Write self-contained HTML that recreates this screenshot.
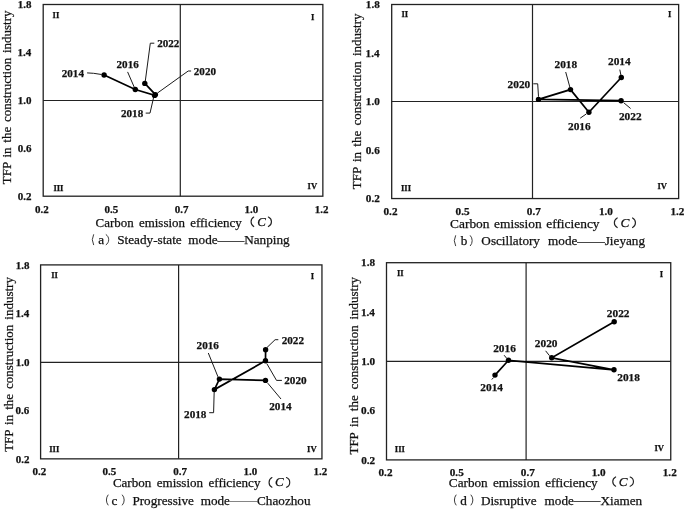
<!DOCTYPE html>
<html><head><meta charset="utf-8"><style>
html,body{margin:0;padding:0;background:#fff;}
body{width:685px;height:509px;overflow:hidden;}
svg{display:block;will-change:transform;}
text{font-family:"Liberation Serif",serif;}
text{stroke:#111;stroke-width:0.25px;}
</style></head><body>
<svg width="685" height="509" viewBox="0 0 685 509">
<g id="pa">
<rect x="43.2" y="4.5" width="279.65" height="191.70" fill="none" stroke="#222" stroke-width="1.3"/>
<line x1="180.3" y1="4.5" x2="180.3" y2="196.2" stroke="#222" stroke-width="1.2"/>
<line x1="43.2" y1="100.5" x2="322.85" y2="100.5" stroke="#222" stroke-width="1.2"/>
<text x="17.74" y="8.20" font-size="11.0" font-weight="bold" fill="#111">1.8</text>
<text x="17.57" y="56.12" font-size="11.0" font-weight="bold" fill="#111">1.4</text>
<text x="17.79" y="104.05" font-size="11.0" font-weight="bold" fill="#111">1.0</text>
<text x="17.68" y="151.97" font-size="11.0" font-weight="bold" fill="#111">0.6</text>
<text x="17.79" y="199.90" font-size="11.0" font-weight="bold" fill="#111">0.2</text>
<text x="35.02" y="212.60" font-size="11.0" font-weight="bold" fill="#111">0.2</text>
<text x="104.60" y="212.60" font-size="11.0" font-weight="bold" fill="#111">0.5</text>
<text x="174.84" y="212.60" font-size="11.0" font-weight="bold" fill="#111">0.7</text>
<text x="244.50" y="212.60" font-size="11.0" font-weight="bold" fill="#111">1.0</text>
<text x="314.71" y="212.60" font-size="11.0" font-weight="bold" fill="#111">1.2</text>
<text x="52.60" y="17.60" font-size="8.6" font-weight="bold" fill="#111">II</text>
<text x="310.90" y="19.60" font-size="8.6" font-weight="bold" fill="#111">I</text>
<text x="53.40" y="190.50" font-size="8.6" font-weight="bold" fill="#111">III</text>
<text x="307.60" y="188.70" font-size="8.6" font-weight="bold" fill="#111">IV</text>
<text transform="translate(11.20,184.16) rotate(-90)" x="0" y="0" font-size="13.0" fill="#111" word-spacing="1.47">TFP in the construction industry</text>
<text x="95.58" y="226.90" font-size="12.95" font-weight="normal" font-style="normal" fill="#111" word-spacing="2.05">Carbon emission efficiency</text>
<path d="M253.73 217.07 A5.54 5.54 0 0 0 253.73 226.53" fill="none" stroke="#222" stroke-width="1.15" stroke-linecap="round"/>
<text x="257.27" y="226.40" font-size="12.95" font-style="italic" fill="#111">C</text>
<path d="M268.38 217.07 A5.18 5.18 0 0 1 268.38 226.53" fill="none" stroke="#222" stroke-width="1.15" stroke-linecap="round"/>
<path d="M93.53 234.67 A10.73 10.73 0 0 0 93.53 244.72" fill="none" stroke="#333" stroke-width="0.95" stroke-linecap="round"/>
<text x="98.28" y="244.10" font-size="13.2" fill="#111">a</text>
<path d="M106.17 234.67 A5.97 5.97 0 0 1 106.17 244.72" fill="none" stroke="#333" stroke-width="0.95" stroke-linecap="round"/>
<text x="117.24" y="244.10" font-size="13.2" font-weight="normal" font-style="normal" fill="#111" word-spacing="3.37">Steady-state mode</text>
<line x1="217.30" y1="241.50" x2="244.60" y2="241.50" stroke="#333" stroke-width="0.9"/>
<text x="244.20" y="244.10" font-size="13.2" fill="#111">Nanping</text>
<path d="M87.10 72.90 L93.60 73.30 L101.60 74.50" fill="none" stroke="#1a1a1a" stroke-width="1.0" stroke-linejoin="miter"/>
<path d="M127.60 71.90 L134.20 87.10" fill="none" stroke="#1a1a1a" stroke-width="1.0" stroke-linejoin="miter"/>
<path d="M145.70 113.10 L150.00 113.10 L153.60 97.50" fill="none" stroke="#1a1a1a" stroke-width="1.0" stroke-linejoin="miter"/>
<path d="M191.10 71.00 L188.20 71.00 L157.50 93.00" fill="none" stroke="#1a1a1a" stroke-width="1.0" stroke-linejoin="miter"/>
<path d="M154.30 43.20 L150.30 43.20 L145.30 81.00" fill="none" stroke="#1a1a1a" stroke-width="1.0" stroke-linejoin="miter"/>
<path d="M104.10 75.00 L135.30 89.50 L154.60 95.40 L155.40 94.60 L144.80 83.40" fill="none" stroke="#000" stroke-width="1.7" stroke-linejoin="miter"/>
<circle cx="104.10" cy="75.00" r="2.7" fill="#000"/>
<circle cx="135.30" cy="89.50" r="2.7" fill="#000"/>
<circle cx="154.60" cy="95.40" r="2.7" fill="#000"/>
<circle cx="155.40" cy="94.60" r="2.7" fill="#000"/>
<circle cx="144.80" cy="83.40" r="2.7" fill="#000"/>
<text x="61.74" y="76.80" font-size="11.1" font-weight="bold" fill="#111">2014</text>
<text x="116.54" y="67.70" font-size="11.1" font-weight="bold" fill="#111">2016</text>
<text x="121.02" y="116.60" font-size="11.1" font-weight="bold" fill="#111">2018</text>
<text x="193.80" y="74.50" font-size="11.1" font-weight="bold" fill="#111">2020</text>
<text x="157.15" y="46.70" font-size="11.1" font-weight="bold" fill="#111">2022</text>
</g>
<g id="pb">
<rect x="391.7" y="4.5" width="286.95" height="194.05" fill="none" stroke="#222" stroke-width="1.3"/>
<line x1="532.5" y1="4.5" x2="532.5" y2="198.55" stroke="#222" stroke-width="1.2"/>
<line x1="391.7" y1="101.5" x2="678.65" y2="101.5" stroke="#222" stroke-width="1.2"/>
<text x="365.79" y="8.20" font-size="11.2" font-weight="bold" fill="#111">1.8</text>
<text x="365.62" y="56.71" font-size="11.2" font-weight="bold" fill="#111">1.4</text>
<text x="365.85" y="105.23" font-size="11.2" font-weight="bold" fill="#111">1.0</text>
<text x="365.74" y="153.74" font-size="11.2" font-weight="bold" fill="#111">0.6</text>
<text x="365.85" y="202.25" font-size="11.2" font-weight="bold" fill="#111">0.2</text>
<text x="383.50" y="215.40" font-size="11.2" font-weight="bold" fill="#111">0.2</text>
<text x="455.57" y="215.40" font-size="11.2" font-weight="bold" fill="#111">0.5</text>
<text x="526.82" y="215.40" font-size="11.2" font-weight="bold" fill="#111">0.7</text>
<text x="598.88" y="215.40" font-size="11.2" font-weight="bold" fill="#111">1.0</text>
<text x="670.38" y="215.40" font-size="11.2" font-weight="bold" fill="#111">1.2</text>
<text x="401.50" y="16.80" font-size="8.6" font-weight="bold" fill="#111">II</text>
<text x="668.10" y="16.70" font-size="8.6" font-weight="bold" fill="#111">I</text>
<text x="401.00" y="190.70" font-size="8.6" font-weight="bold" fill="#111">III</text>
<text x="657.40" y="188.50" font-size="8.6" font-weight="bold" fill="#111">IV</text>
<text transform="translate(361.00,189.16) rotate(-90)" x="0" y="0" font-size="13.0" fill="#111" word-spacing="1.97">TFP in the construction industry</text>
<text x="450.06" y="227.90" font-size="13.4" font-weight="normal" font-style="normal" fill="#111" word-spacing="1.24">Carbon emission efficiency</text>
<path d="M617.22 217.97 A5.43 5.43 0 0 0 617.22 227.53" fill="none" stroke="#222" stroke-width="1.15" stroke-linecap="round"/>
<text x="620.51" y="227.40" font-size="13.4" font-style="italic" fill="#111">C</text>
<path d="M632.58 217.97 A5.43 5.43 0 0 1 632.58 227.53" fill="none" stroke="#222" stroke-width="1.15" stroke-linecap="round"/>
<path d="M455.52 235.67 A10.73 10.73 0 0 0 455.52 245.72" fill="none" stroke="#333" stroke-width="0.95" stroke-linecap="round"/>
<text x="460.66" y="245.30" font-size="13.2" fill="#111">b</text>
<path d="M470.38 235.67 A7.45 7.45 0 0 1 470.38 245.72" fill="none" stroke="#333" stroke-width="0.95" stroke-linecap="round"/>
<text x="481.37" y="245.30" font-size="13.2" font-weight="normal" font-style="normal" fill="#111" word-spacing="4.81">Oscillatory mode</text>
<line x1="577.00" y1="242.50" x2="605.00" y2="242.50" stroke="#333" stroke-width="0.9"/>
<text x="604.74" y="245.30" font-size="13.2" fill="#111">Jieyang</text>
<path d="M619.80 69.60 L620.90 75.10" fill="none" stroke="#1a1a1a" stroke-width="1.0" stroke-linejoin="miter"/>
<path d="M580.20 118.20 L586.20 114.00" fill="none" stroke="#1a1a1a" stroke-width="1.0" stroke-linejoin="miter"/>
<path d="M565.70 72.00 L570.00 87.70" fill="none" stroke="#1a1a1a" stroke-width="1.0" stroke-linejoin="miter"/>
<path d="M533.30 83.80 L537.70 83.80 L538.50 96.70" fill="none" stroke="#1a1a1a" stroke-width="1.0" stroke-linejoin="miter"/>
<path d="M623.70 102.70 L630.60 108.50" fill="none" stroke="#1a1a1a" stroke-width="1.0" stroke-linejoin="miter"/>
<path d="M621.30 77.50 L588.90 112.30 L570.50 89.60 L538.50 99.40 L621.10 100.70" fill="none" stroke="#000" stroke-width="1.7" stroke-linejoin="miter"/>
<circle cx="621.30" cy="77.50" r="2.7" fill="#000"/>
<circle cx="588.90" cy="112.30" r="2.7" fill="#000"/>
<circle cx="570.50" cy="89.60" r="2.7" fill="#000"/>
<circle cx="538.50" cy="99.40" r="2.7" fill="#000"/>
<circle cx="621.10" cy="100.70" r="2.7" fill="#000"/>
<text x="607.99" y="65.30" font-size="11.35" font-weight="bold" fill="#111">2014</text>
<text x="567.99" y="129.60" font-size="11.35" font-weight="bold" fill="#111">2016</text>
<text x="554.47" y="67.50" font-size="11.35" font-weight="bold" fill="#111">2018</text>
<text x="507.55" y="87.90" font-size="11.35" font-weight="bold" fill="#111">2020</text>
<text x="618.95" y="119.90" font-size="11.35" font-weight="bold" fill="#111">2022</text>
</g>
<g id="pc">
<rect x="40.6" y="264.9" width="281.35" height="193.95" fill="none" stroke="#222" stroke-width="1.3"/>
<line x1="178.6" y1="264.9" x2="178.6" y2="458.85" stroke="#222" stroke-width="1.2"/>
<line x1="40.6" y1="362.3" x2="321.95" y2="362.3" stroke="#222" stroke-width="1.2"/>
<text x="15.63" y="268.60" font-size="11.0" font-weight="bold" fill="#111">1.8</text>
<text x="15.47" y="317.09" font-size="11.0" font-weight="bold" fill="#111">1.4</text>
<text x="15.69" y="365.57" font-size="11.0" font-weight="bold" fill="#111">1.0</text>
<text x="15.58" y="414.06" font-size="11.0" font-weight="bold" fill="#111">0.6</text>
<text x="15.69" y="462.55" font-size="11.0" font-weight="bold" fill="#111">0.2</text>
<text x="32.38" y="475.10" font-size="11.0" font-weight="bold" fill="#111">0.2</text>
<text x="102.60" y="475.10" font-size="11.0" font-weight="bold" fill="#111">0.5</text>
<text x="173.24" y="475.10" font-size="11.0" font-weight="bold" fill="#111">0.7</text>
<text x="243.50" y="475.10" font-size="11.0" font-weight="bold" fill="#111">1.0</text>
<text x="313.41" y="475.10" font-size="11.0" font-weight="bold" fill="#111">1.2</text>
<text x="51.20" y="277.60" font-size="8.6" font-weight="bold" fill="#111">II</text>
<text x="310.70" y="278.70" font-size="8.6" font-weight="bold" fill="#111">I</text>
<text x="49.20" y="451.70" font-size="8.6" font-weight="bold" fill="#111">III</text>
<text x="307.10" y="452.00" font-size="8.6" font-weight="bold" fill="#111">IV</text>
<text transform="translate(13.10,451.86) rotate(-90)" x="0" y="0" font-size="13.0" fill="#111" word-spacing="1.74">TFP in the construction industry</text>
<text x="112.88" y="486.90" font-size="13.05" font-weight="normal" font-style="normal" fill="#111" word-spacing="2.15">Carbon emission efficiency</text>
<path d="M271.93 477.57 A5.51 5.51 0 0 0 271.93 487.23" fill="none" stroke="#222" stroke-width="1.15" stroke-linecap="round"/>
<text x="275.09" y="486.40" font-size="13.05" font-style="italic" fill="#111">C</text>
<path d="M286.47 477.57 A5.21 5.21 0 0 1 286.47 487.23" fill="none" stroke="#222" stroke-width="1.15" stroke-linecap="round"/>
<path d="M108.03 494.98 A8.09 8.09 0 0 0 108.03 505.02" fill="none" stroke="#333" stroke-width="0.95" stroke-linecap="round"/>
<text x="111.60" y="504.60" font-size="13.2" fill="#111">c</text>
<path d="M122.38 494.98 A7.45 7.45 0 0 1 122.38 505.02" fill="none" stroke="#333" stroke-width="0.95" stroke-linecap="round"/>
<text x="132.40" y="504.60" font-size="13.2" font-weight="normal" font-style="normal" fill="#111" word-spacing="3.41">Progressive mode</text>
<line x1="229.60" y1="501.50" x2="257.60" y2="501.50" stroke="#777" stroke-width="0.9"/>
<text x="257.07" y="504.60" font-size="13.2" fill="#111">Chaozhou</text>
<path d="M267.70 383.10 L281.00 399.00" fill="none" stroke="#1a1a1a" stroke-width="1.0" stroke-linejoin="miter"/>
<path d="M208.30 353.00 L218.00 376.90" fill="none" stroke="#1a1a1a" stroke-width="1.0" stroke-linejoin="miter"/>
<path d="M209.20 412.70 L213.60 412.70 L214.20 391.00" fill="none" stroke="#1a1a1a" stroke-width="1.0" stroke-linejoin="miter"/>
<path d="M266.80 363.60 L276.50 380.40 L281.90 380.40" fill="none" stroke="#1a1a1a" stroke-width="1.0" stroke-linejoin="miter"/>
<path d="M278.30 339.70 L275.10 339.70 L266.80 347.70" fill="none" stroke="#1a1a1a" stroke-width="1.0" stroke-linejoin="miter"/>
<path d="M265.50 380.40 L219.40 379.10 L214.40 389.60 L265.50 360.80 L265.60 349.80" fill="none" stroke="#000" stroke-width="1.7" stroke-linejoin="miter"/>
<circle cx="265.50" cy="380.40" r="2.7" fill="#000"/>
<circle cx="219.40" cy="379.10" r="2.7" fill="#000"/>
<circle cx="214.40" cy="389.60" r="2.7" fill="#000"/>
<circle cx="265.50" cy="360.80" r="2.7" fill="#000"/>
<circle cx="265.60" cy="349.80" r="2.7" fill="#000"/>
<text x="269.24" y="410.40" font-size="11.2" font-weight="bold" fill="#111">2014</text>
<text x="196.59" y="349.00" font-size="11.2" font-weight="bold" fill="#111">2016</text>
<text x="184.07" y="417.50" font-size="11.2" font-weight="bold" fill="#111">2018</text>
<text x="284.20" y="383.90" font-size="11.2" font-weight="bold" fill="#111">2020</text>
<text x="281.65" y="343.70" font-size="11.2" font-weight="bold" fill="#111">2022</text>
</g>
<g id="pd">
<rect x="386.5" y="262.7" width="284.25" height="197.20" fill="none" stroke="#222" stroke-width="1.3"/>
<line x1="526.1" y1="262.7" x2="526.1" y2="459.9" stroke="#222" stroke-width="1.2"/>
<line x1="386.5" y1="361.4" x2="670.75" y2="361.4" stroke="#222" stroke-width="1.2"/>
<text x="361.09" y="266.40" font-size="11.2" font-weight="bold" fill="#111">1.8</text>
<text x="360.92" y="315.70" font-size="11.2" font-weight="bold" fill="#111">1.4</text>
<text x="361.15" y="365.00" font-size="11.2" font-weight="bold" fill="#111">1.0</text>
<text x="361.04" y="414.30" font-size="11.2" font-weight="bold" fill="#111">0.6</text>
<text x="361.15" y="463.60" font-size="11.2" font-weight="bold" fill="#111">0.2</text>
<text x="378.50" y="476.30" font-size="11.2" font-weight="bold" fill="#111">0.2</text>
<text x="449.77" y="476.30" font-size="11.2" font-weight="bold" fill="#111">0.5</text>
<text x="520.82" y="476.30" font-size="11.2" font-weight="bold" fill="#111">0.7</text>
<text x="591.68" y="476.30" font-size="11.2" font-weight="bold" fill="#111">1.0</text>
<text x="662.78" y="476.30" font-size="11.2" font-weight="bold" fill="#111">1.2</text>
<text x="396.90" y="276.40" font-size="8.6" font-weight="bold" fill="#111">II</text>
<text x="659.70" y="276.70" font-size="8.6" font-weight="bold" fill="#111">I</text>
<text x="394.80" y="451.70" font-size="8.6" font-weight="bold" fill="#111">III</text>
<text x="654.40" y="451.40" font-size="8.6" font-weight="bold" fill="#111">IV</text>
<text transform="translate(357.70,454.56) rotate(-90)" x="0" y="0" font-size="13.0" fill="#111" word-spacing="2.44">TFP in the construction industry</text>
<text x="448.87" y="486.90" font-size="13.2" font-weight="normal" font-style="normal" fill="#111" word-spacing="1.98">Carbon emission efficiency</text>
<path d="M615.62 476.97 A5.18 5.18 0 0 0 615.62 486.23" fill="none" stroke="#222" stroke-width="1.15" stroke-linecap="round"/>
<text x="618.73" y="486.40" font-size="13.2" font-style="italic" fill="#111">C</text>
<path d="M630.18 476.97 A4.92 4.92 0 0 1 630.18 486.23" fill="none" stroke="#222" stroke-width="1.15" stroke-linecap="round"/>
<path d="M456.02 494.98 A8.09 8.09 0 0 0 456.02 505.02" fill="none" stroke="#333" stroke-width="0.95" stroke-linecap="round"/>
<text x="460.24" y="504.60" font-size="13.2" fill="#111">d</text>
<path d="M471.08 494.98 A7.45 7.45 0 0 1 471.08 505.02" fill="none" stroke="#333" stroke-width="0.95" stroke-linecap="round"/>
<text x="480.90" y="504.60" font-size="13.2" font-weight="normal" font-style="normal" fill="#111" word-spacing="4.68">Disruptive mode</text>
<line x1="573.50" y1="501.50" x2="600.70" y2="501.50" stroke="#333" stroke-width="0.9"/>
<text x="600.44" y="504.60" font-size="13.2" fill="#111">Xiamen</text>
<path d="M491.80 379.50 L493.60 377.50" fill="none" stroke="#1a1a1a" stroke-width="1.0" stroke-linejoin="miter"/>
<path d="M504.10 355.20 L506.60 358.20" fill="none" stroke="#1a1a1a" stroke-width="1.0" stroke-linejoin="miter"/>
<path d="M545.60 350.80 L549.50 355.70" fill="none" stroke="#1a1a1a" stroke-width="1.0" stroke-linejoin="miter"/>
<path d="M495.00 375.10 L508.50 360.30 L614.00 369.80 L551.70 357.80 L614.20 321.80" fill="none" stroke="#000" stroke-width="1.7" stroke-linejoin="miter"/>
<circle cx="495.00" cy="375.10" r="2.7" fill="#000"/>
<circle cx="508.50" cy="360.30" r="2.7" fill="#000"/>
<circle cx="614.00" cy="369.80" r="2.7" fill="#000"/>
<circle cx="551.70" cy="357.80" r="2.7" fill="#000"/>
<circle cx="614.20" cy="321.80" r="2.7" fill="#000"/>
<text x="480.34" y="391.10" font-size="11.35" font-weight="bold" fill="#111">2014</text>
<text x="493.19" y="351.60" font-size="11.35" font-weight="bold" fill="#111">2016</text>
<text x="617.27" y="380.90" font-size="11.35" font-weight="bold" fill="#111">2018</text>
<text x="534.85" y="346.80" font-size="11.35" font-weight="bold" fill="#111">2020</text>
<text x="606.85" y="317.10" font-size="11.35" font-weight="bold" fill="#111">2022</text>
</g>
</svg>
</body></html>
